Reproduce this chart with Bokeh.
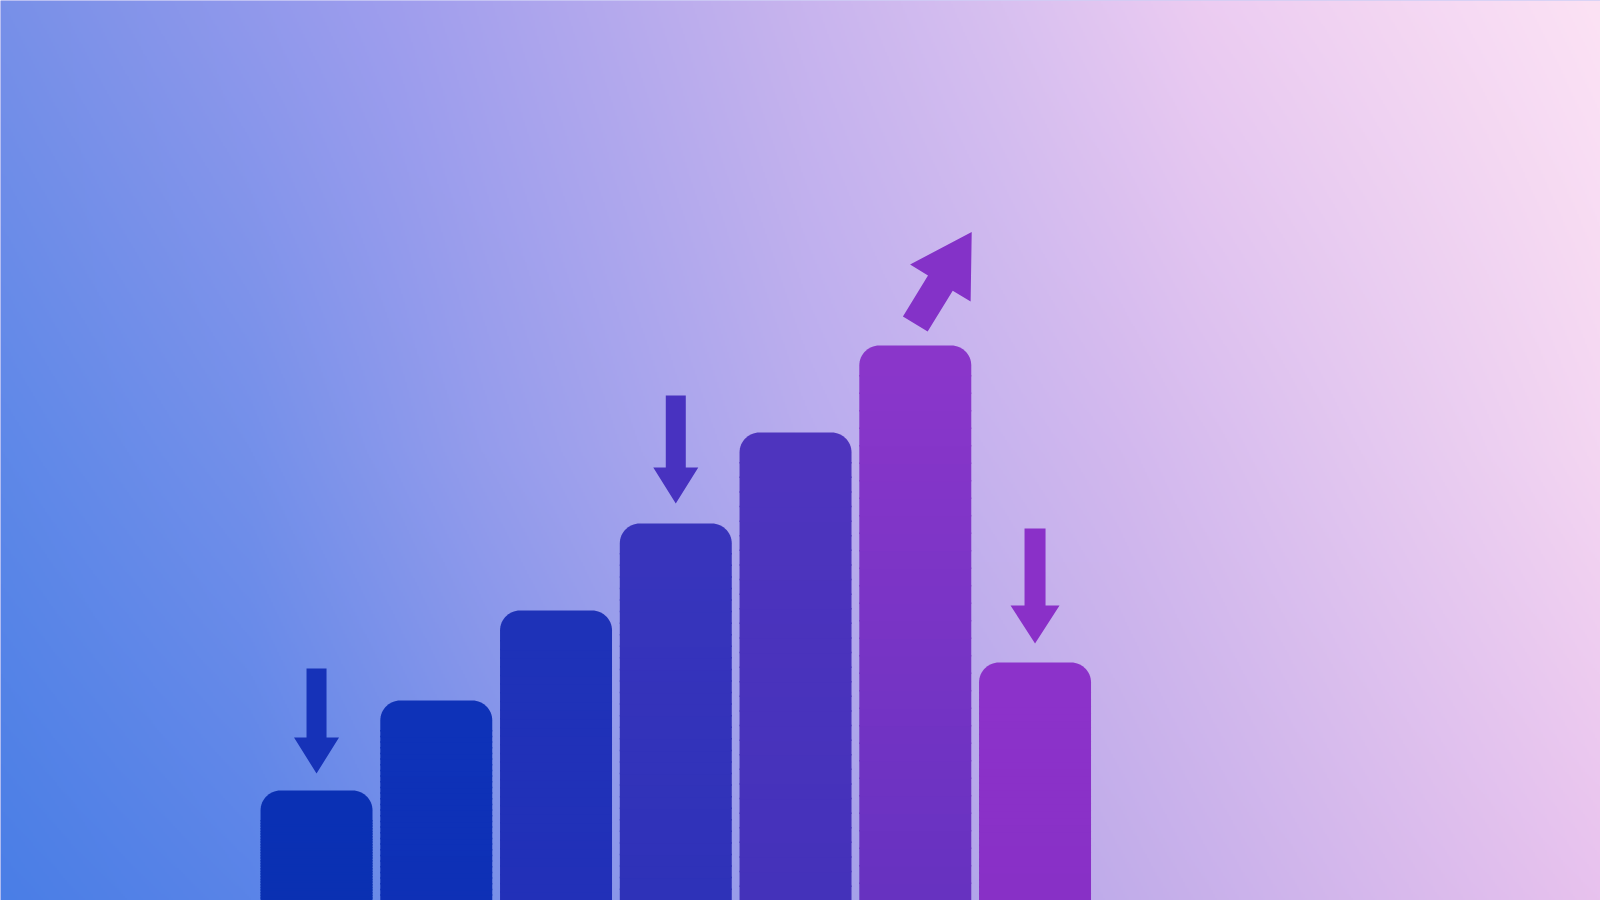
import numpy as np
from bokeh.plotting import figure
from bokeh.models import Range1d
from bokeh.embed import file_html
from bokeh.resources import INLINE

# ---------------- data ----------------
categories = ["1", "2", "3", "4", "5", "6", "7"]
values = [110, 200, 290, 377, 468, 555, 238]
bar_top_colors = ["#0a30b4", "#0e32b8", "#1e32b8", "#3834bc", "#4e34be", "#8a36ca", "#8c32ca"]
bar_bottom_colors = ["#0a30b2", "#0e30b6", "#2230b8", "#2e32b8", "#4432ba", "#6632c0", "#8830c6"]

# arrows: which bar they refer to, and direction (degrees)
arrow_bars = [0, 3, 6, 5]
arrow_angles = [-90, -90, -90, 58.5]
arrow_colors = ["#1632b8", "#4832c0", "#8a30c8", "#8432c8"]

# ---------------- styling / geometry ----------------
W_PX, H_PX = 1600, 900
X0, X1 = -2.639, 10.722
Y0, Y1 = 0, 900
BAR_W = 0.935
RADIUS = 20  # px

arrow_len = [105, 108, 115, 108]
arrow_gap = [17, 20, 19, 21.5]
arrow_head_len = [36, 36, 38, 60]
arrow_shaft_w = [20, 20, 21, 29]
arrow_head_w = [45, 45, 49, 71]

sx = (X1 - X0) / W_PX  # data units per pixel in x
sy = (Y1 - Y0) / H_PX


def hex2rgb(h):
    h = h.lstrip("#")
    return np.array([int(h[i:i + 2], 16) for i in (0, 2, 4)], dtype=float)


def row_colors(xn, stops, cols):
    c = np.array([hex2rgb(k) for k in cols])
    return np.stack([np.interp(xn, stops, c[:, j]) for j in range(3)], axis=-1)


# ---------------- background gradient ----------------
GW, GH = 800, 450
xn = np.linspace(0, 1600, GW) / 1600.0
yn = np.linspace(900, 0, GH) / 900.0  # row 0 = bottom; normalized from top

top_row = row_colors(xn, [0, 0.25, 0.5, 0.625, 0.75, 1.0],
                     ["#7890e8", "#a09eee", "#c8b4ee", "#d8c0f0", "#ecccf2", "#fce2f4"])
mid_row = row_colors(xn, [0, 0.156, 0.3, 0.5, 0.7, 1.0],
                     ["#5e88e8", "#7490ea", "#949cec", "#b8acee", "#d2b8ee", "#f4d6f2"])
bot_row = row_colors(xn, [0, 0.156, 0.4, 0.69, 1.0],
                     ["#4a7ee6", "#5a84e8", "#8e98ea", "#c0acea", "#e8c2ee"])

rgb = np.zeros((GH, GW, 3))
for r in range(GH):
    t = yn[r]
    if t <= 0.5:
        f = t / 0.5
        rgb[r] = top_row + (mid_row - top_row) * f
    else:
        f = (t - 0.5) / 0.5
        rgb[r] = mid_row + (bot_row - mid_row) * f

rgba = np.empty((GH, GW, 4), dtype=np.uint8)
rgba[..., :3] = np.clip(rgb, 0, 255).astype(np.uint8)
rgba[..., 3] = 255
img = rgba.view(dtype=np.uint32).reshape((GH, GW))

# ---------------- figure ----------------
p = figure(width=W_PX, height=H_PX, x_range=Range1d(X0, X1), y_range=Range1d(Y0, Y1),
           output_backend="svg", toolbar_location=None, min_border=0,
           x_axis_location=None, y_axis_location=None)
p.outline_line_color = None
p.grid.visible = False
p.background_fill_color = "#a0a0ee"
p.border_fill_color = "#a0a0ee"

p.image_rgba(image=[img], x=X0, y=Y0, dw=X1 - X0, dh=Y1 - Y0)

# ---------------- bars: rounded top cap + vertical gradient body ----------------
rx = RADIUS * sx
ry = RADIUS * sy
CAP = 30  # px of the bar top drawn in the top colour
arc = np.linspace(0, np.pi / 2, 16)

cap_xs, cap_ys, cap_cols = [], [], []
gx_l, gx_r, gb, gt, gc = [], [], [], [], []
N = 30
for i, v in enumerate(values):
    left, right = i - BAR_W / 2, i + BAR_W / 2
    cap_bottom = v - CAP * sy
    xs_ = [left]
    ys_ = [cap_bottom - 1]
    # top-left corner: angles pi -> pi/2
    for a in (np.pi - arc):
        xs_.append(left + rx + rx * np.cos(a))
        ys_.append(v - ry + ry * np.sin(a))
    # top-right corner: angles pi/2 -> 0
    for a in (np.pi / 2 - arc):
        xs_.append(right - rx + rx * np.cos(a))
        ys_.append(v - ry + ry * np.sin(a))
    xs_.append(right)
    ys_.append(cap_bottom - 1)
    cap_xs.append(xs_)
    cap_ys.append(ys_)
    cap_cols.append(bar_top_colors[i])

    c_bot = hex2rgb(bar_bottom_colors[i])
    c_top = hex2rgb(bar_top_colors[i])
    h = cap_bottom
    for k in range(N):
        f = (k + 0.5) / N
        c = c_bot + (c_top - c_bot) * f
        gx_l.append(left)
        gx_r.append(right)
        gb.append(h * k / N - 1)
        gt.append(h * (k + 1) / N + 0.5)
        gc.append("#%02x%02x%02x" % tuple(int(round(z)) for z in c))

p.quad(left=gx_l, right=gx_r, top=gt, bottom=gb, fill_color=gc, line_color=None)
p.patches(xs=cap_xs, ys=cap_ys, fill_color=cap_cols, line_color=None)

# ---------------- arrows ----------------
axs, ays = [], []
for j, b in enumerate(arrow_bars):
    ang = np.deg2rad(arrow_angles[j])
    d = np.array([np.cos(ang), np.sin(ang)])
    n = np.array([-d[1], d[0]])
    L = arrow_len[j]
    hl, sw, hw = arrow_head_len[j], arrow_shaft_w[j], arrow_head_w[j]
    if arrow_angles[j] < 0:
        tip = np.array([0.0, arrow_gap[j]])
        tail = tip - L * d
    else:
        tail = np.array([0.0, arrow_gap[j]])
    local = [(0, -sw / 2), (L - hl, -sw / 2), (L - hl, -hw / 2), (L, 0),
             (L - hl, hw / 2), (L - hl, sw / 2), (0, sw / 2)]
    xs_, ys_ = [], []
    for u, w in local:
        pt = tail + u * d + w * n  # pixel offsets relative to bar top centre
        xs_.append(b + pt[0] * sx)
        ys_.append(values[b] + pt[1] * sy)
    axs.append(xs_)
    ays.append(ys_)
p.patches(xs=axs, ys=ays, fill_color=arrow_colors, line_color=None)

open("out.html", "w").write(file_html(p, INLINE, title="bars"))
